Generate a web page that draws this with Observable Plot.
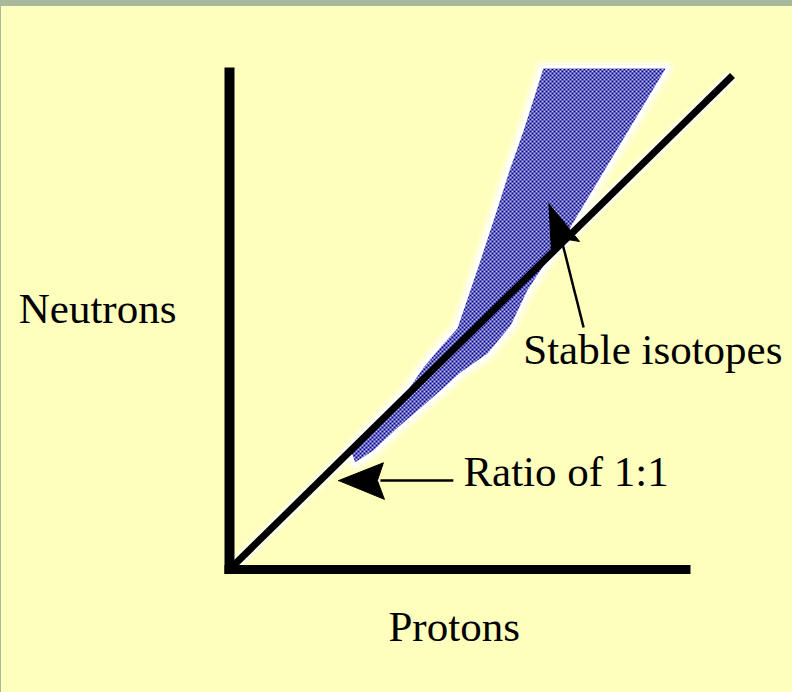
<!DOCTYPE html>
<html>
<head>
<meta charset="utf-8">
<script src="https://cdn.jsdelivr.net/npm/d3@7"></script>
<script src="https://cdn.jsdelivr.net/npm/@observablehq/plot@0.6"></script>
<style>
  html, body { margin: 0; padding: 0; }
  body { background: #A8B89C; padding: 6px 0 0 1px; width: 791px; height: 686px; overflow: hidden; }
  svg { display: block; }
</style>
</head>
<body>
<div id="chart"></div>
<script>
// Stable isotope band outline (protons, neutrons)
const bandProtons  = [62.4, 86.7, 66.2, 62.8, 59.2, 55.9, 51.3, 45.9, 41.9, 37.4, 33.4, 28.6, 25.0, 24.1, 35.4, 38.6, 41.9, 45.3, 47.0, 49.7, 52.5, 55.7, 58.5];
const bandNeutrons = [101.4, 101.4, 66.6, 62.1, 56.5, 49.4, 43.7, 39.9, 36.2, 32.2, 28.7, 24.1, 21.7, 24.1, 36.2, 40.9, 44.9, 48.8, 53.8, 61.9, 70.6, 80.8, 88.9];

// 1:1 ratio line
const ratioProtons  = [0, 100];
const ratioNeutrons = [0, 100];

// Axes extents
const yAxisProtons  = [0, 0];
const yAxisNeutrons = [-0.9, 101.6];
const xAxisProtons  = [-1, 91.65];
const xAxisNeutrons = [0, 0];

// Arrow: "Ratio of 1:1"
const ratioArrowLineP = [44.5, 30.0];
const ratioArrowLineN = [18.0, 18.0];
const ratioHeadP = [21.7, 30.6, 29.4, 30.8];
const ratioHeadN = [18.0, 21.6, 18.0, 14.2];

// Arrow: "Stable isotopes"
const stableArrowLineP = [66.2, 70.4];
const stableArrowLineN = [66.0, 49.0];
const stableHeadP = [63.5, 64.0, 66.0, 69.6];
const stableHeadN = [74.0, 64.6, 67.0, 66.4];

// Labels
const labelTexts    = ["Neutrons", "Stable isotopes", "Ratio of 1:1", "Protons"];
const labelProtons  = [-41.9, 58.4, 46.5, 31.6];
const labelNeutrons = [49.8, 41.7, 17.0, -14.4];

const pts = (xs, ys) => xs.map((x, i) => ({x, y: ys[i]}));
const closed = (xs, ys) => { const p = pts(xs, ys); return [...p, p[0]]; };

const band = closed(bandProtons, bandNeutrons);
const ratio = pts(ratioProtons, ratioNeutrons);
const labels = labelTexts.map((t, i) => ({t, x: labelProtons[i], y: labelNeutrons[i]}));

const defs = () => {
  const d = document.createElementNS("http://www.w3.org/2000/svg", "defs");
  d.innerHTML = `<pattern id="checker" width="4" height="4" patternUnits="userSpaceOnUse">
    <rect width="4" height="4" fill="#c4c4f0"/>
    <rect width="2" height="2" fill="#00008c"/>
    <rect x="2" y="2" width="2" height="2" fill="#00008c"/>
  </pattern>`;
  return d;
};

const chart = Plot.plot({
  width: 791,
  height: 686,
  margin: 0,
  style: {background: "#FFFFBD", overflow: "visible"},
  x: {domain: [0, 100], range: [228, 731], axis: null},
  y: {domain: [0, 100], range: [563, 69], axis: null},
  marks: [
    defs,
    // halo around band
    Plot.line(band, {x: "x", y: "y", stroke: "#ffffff", strokeWidth: 18, strokeOpacity: 0.3, strokeLinejoin: "round", fill: "#ffffff", fillOpacity: 0.3}),
    Plot.line(band, {x: "x", y: "y", stroke: "#ffffff", strokeWidth: 11, strokeOpacity: 0.6, strokeLinejoin: "round"}),
    Plot.line(band, {x: "x", y: "y", stroke: "#ffffff", strokeWidth: 6, strokeOpacity: 1, strokeLinejoin: "round"}),
    // halo around ratio line
    Plot.line(ratio, {x: "x", y: "y", stroke: "#ffffff", strokeWidth: 16, strokeOpacity: 0.3, strokeLinecap: "butt"}),
    Plot.line(ratio, {x: "x", y: "y", stroke: "#ffffff", strokeWidth: 11, strokeOpacity: 0.6, strokeLinecap: "butt"}),
    // band fill
    Plot.line(band, {x: "x", y: "y", stroke: "none", fill: "url(#checker)"}),
    // ratio line
    Plot.line(ratio, {x: "x", y: "y", stroke: "#000000", strokeWidth: 7, strokeLinecap: "butt"}),
    // axes
    Plot.line(pts(yAxisProtons, yAxisNeutrons), {x: "x", y: "y", stroke: "#000000", strokeWidth: 10, strokeLinecap: "butt"}),
    Plot.line(pts(xAxisProtons, xAxisNeutrons), {x: "x", y: "y", stroke: "#000000", strokeWidth: 9, strokeLinecap: "butt"}),
    // arrows
    Plot.line(pts(ratioArrowLineP, ratioArrowLineN), {x: "x", y: "y", stroke: "#000000", strokeWidth: 2.5, strokeLinecap: "butt"}),
    Plot.line(closed(ratioHeadP, ratioHeadN), {x: "x", y: "y", stroke: "#000000", strokeWidth: 1, fill: "#000000"}),
    Plot.line(pts(stableArrowLineP, stableArrowLineN), {x: "x", y: "y", stroke: "#000000", strokeWidth: 2.5, strokeLinecap: "butt"}),
    Plot.line(closed(stableHeadP, stableHeadN), {x: "x", y: "y", stroke: "#000000", strokeWidth: 1, fill: "#000000"}),
    // labels
    Plot.text(labels, {x: "x", y: "y", text: "t", textAnchor: "start", lineAnchor: "bottom",
      fontFamily: "Liberation Serif", fontSize: 43, fill: "#000000"})
  ]
});
document.getElementById("chart").appendChild(chart);
</script>
</body>
</html>
